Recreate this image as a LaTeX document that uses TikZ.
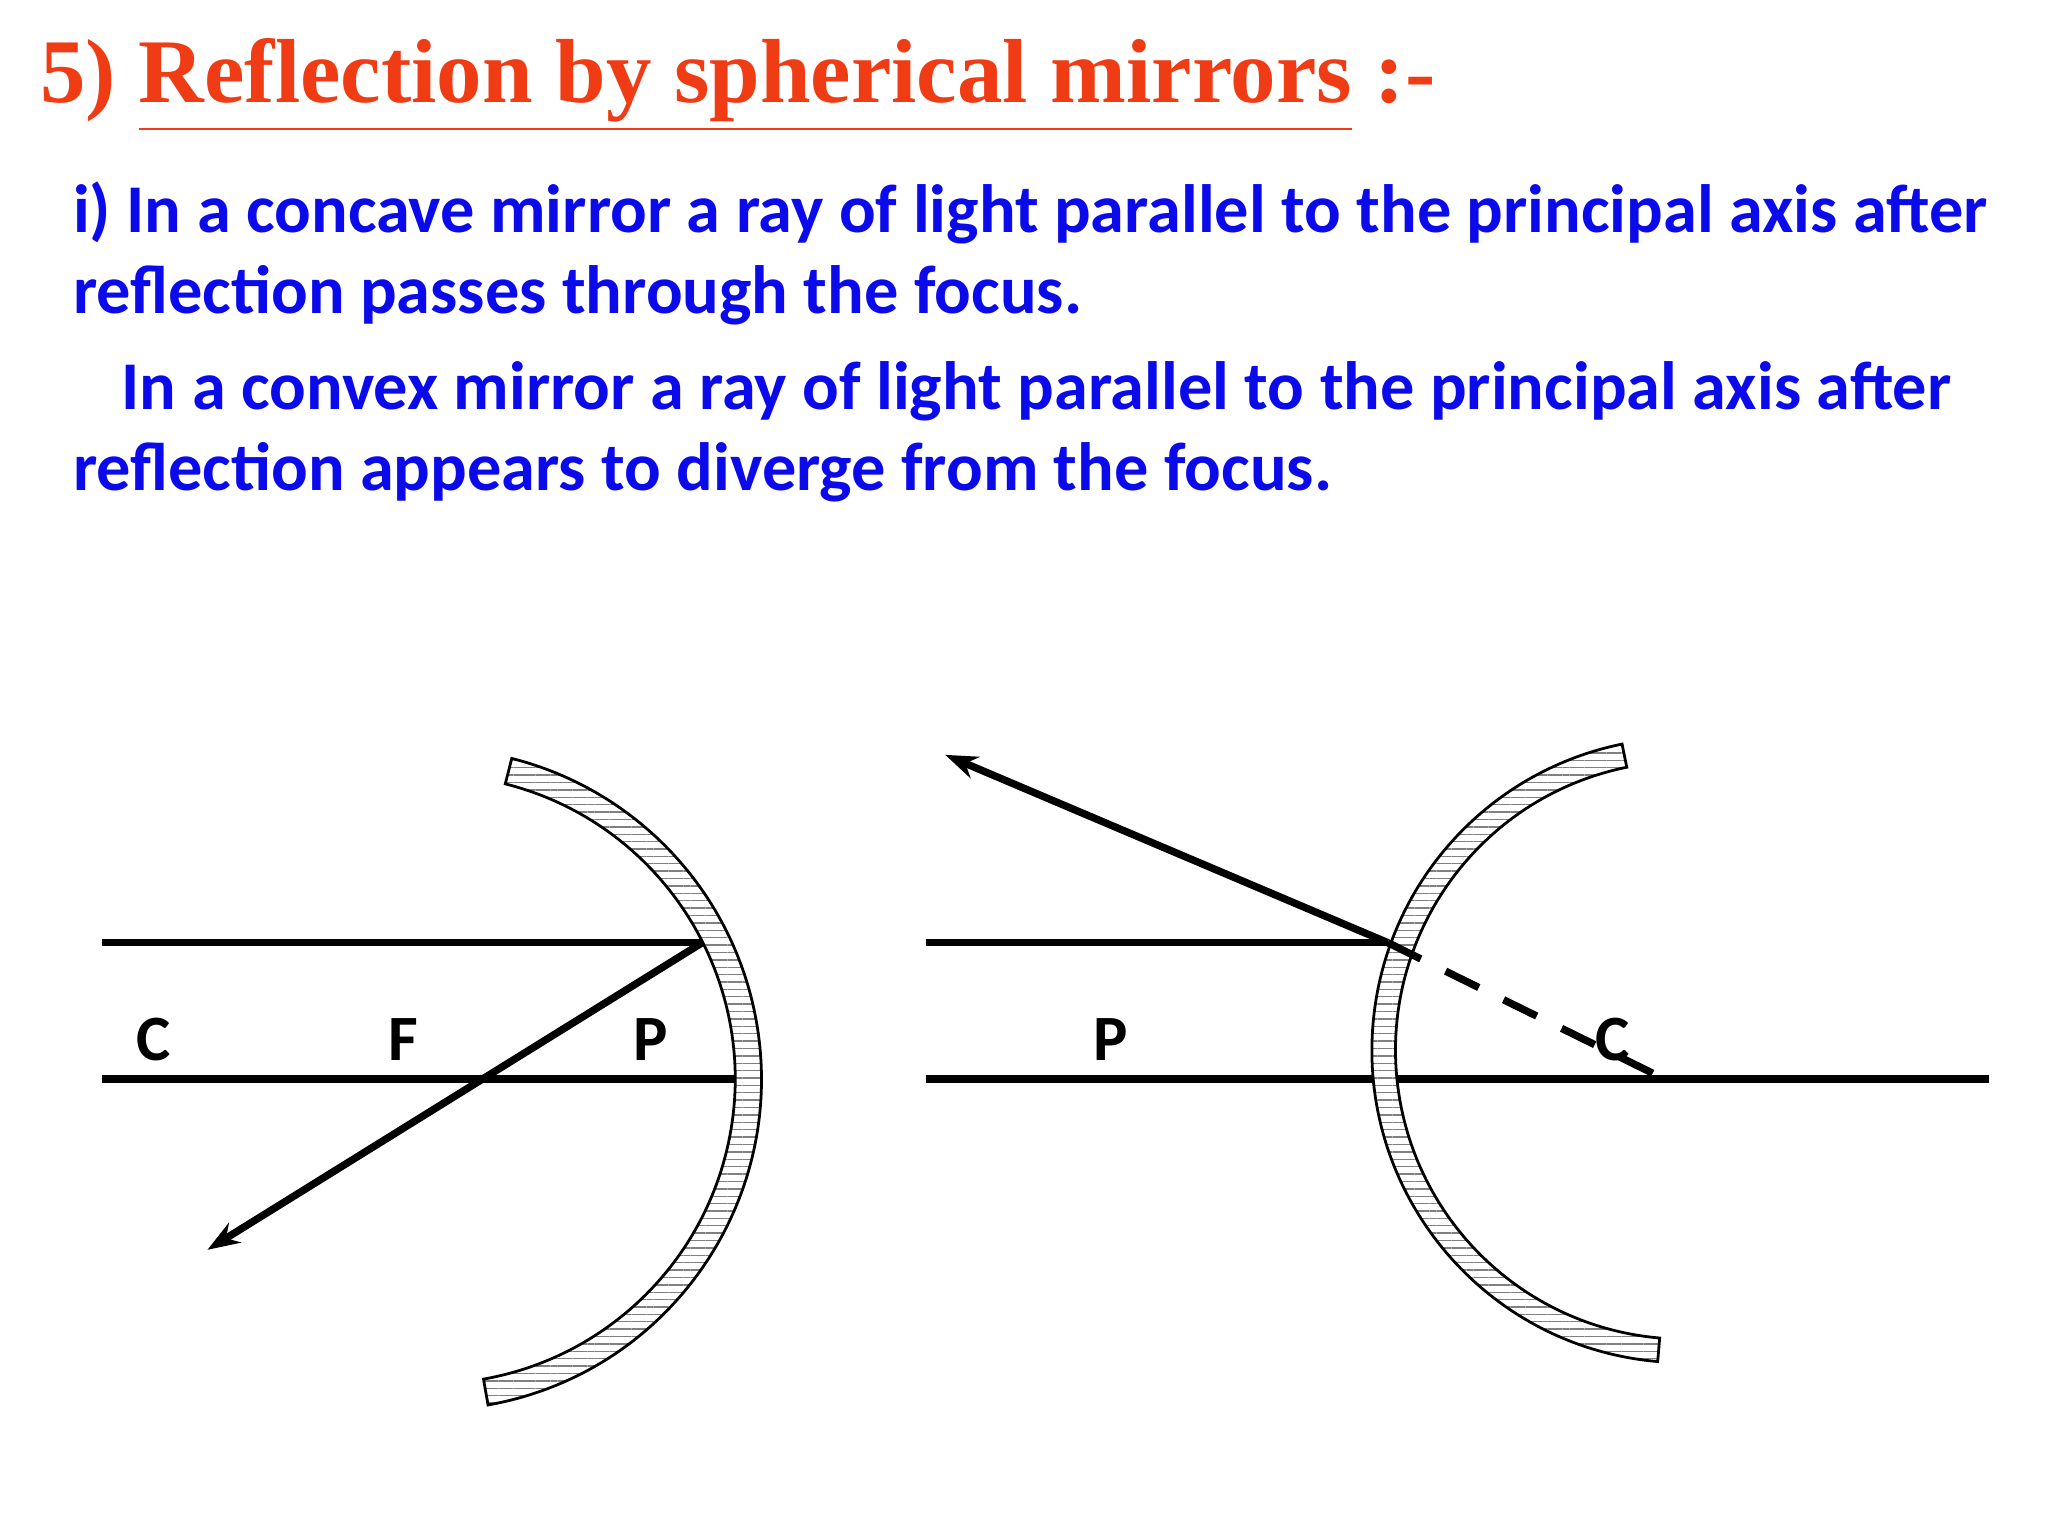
\documentclass[tikz,border=0pt]{standalone}
\usepackage{fontspec}
\setmainfont{Liberation Serif}
\newfontfamily\calfont{Carlito}
\usetikzlibrary{patterns.meta,arrows.meta,calc}
\definecolor{ttl}{RGB}{240,60,20}
\definecolor{bl}{RGB}{10,10,235}
\tikzset{ray/.style={line width=1.6pt},arr/.style={ray,-{Stealth[length=7pt,width=5pt]}},
lbl/.style={font=\calfont\bfseries\fontsize{14}{14}\selectfont},
txt/.style={anchor=west,font=\calfont\bfseries\fontsize{14.8}{17}\selectfont,text=bl,inner sep=0pt},
band/.style={pattern={Lines[angle=0,distance=1.6pt,line width=0.3pt]},pattern color=gray,draw=black,line width=0.6pt}}
\begin{document}
\begin{tikzpicture}[x=0.01cm,y=-0.01cm]
\useasboundingbox (0,0) rectangle (1560,1170);
\node[anchor=west,inner sep=0pt,text=ttl,font=\bfseries\fontsize{19.7}{20}\selectfont] (title) at (30,65) {5) \underline{Reflection by spherical mirrors} :-};
\node[txt] (t1) at (55,162) {i) In a concave mirror a ray of light parallel to the principal axis after};
\node[txt] (t2) at (55,225) {reflection passes through the focus.};
\node[txt] (t3) at (92,298) {In a convex mirror a ray of light parallel to the principal axis after};
\node[txt] (t4) at (55,360) {reflection appears to diverge from the focus.};
% left concave mirror
\coordinate (lc) at (328,822);
\path[band] ($(lc)+(-75.8:232)$) arc[start angle=-75.8,end angle=80,radius=232] -- ($(lc)+(80:252)$) arc[start angle=80,end angle=-75.8,radius=252] -- cycle;
\coordinate (la1) at (78,822); \coordinate (la2) at (560,822);
\coordinate (lr1) at (78,718); \coordinate (lm) at (535,718);
\coordinate (lend) at (158,952);
\draw[ray] (la1) -- (la2);
\draw[ray] (lr1) -- (lm);
\draw[arr] (lm) -- (lend);
\node[lbl] (C1) at (117,792) {C};
\node[lbl] (F1) at (307,792) {F};
\node[lbl] (P1) at (496,792) {P};
% right convex mirror
\coordinate (rc) at (1283,800);
\path[band] ($(rc)+(94.9:238)$) arc[start angle=94.9,end angle=258.5,radius=238] -- ($(rc)+(258.5:220)$) arc[start angle=258.5,end angle=94.9,radius=220] -- cycle;
\coordinate (ra1) at (705,822); \coordinate (ra2) at (1045,822);
\coordinate (ra3) at (1063,822); \coordinate (ra4) at (1515,822);
\coordinate (rr1) at (705,718); \coordinate (rm) at (1057,718);
\coordinate (rend) at (720,575); \coordinate (rd) at (1268,822);
\draw[ray] (ra1) -- (ra2);
\draw[ray] (ra3) -- (ra4);
\draw[ray] (rr1) -- (rm);
\draw[arr] (rm) -- (rend);
\draw[ray,dash pattern=on 8pt off 6pt] (rm) -- (rd);
\node[lbl] (P2) at (846,792) {P};
\node[lbl] (C2) at (1228,792) {C};
\end{tikzpicture}
\end{document}
